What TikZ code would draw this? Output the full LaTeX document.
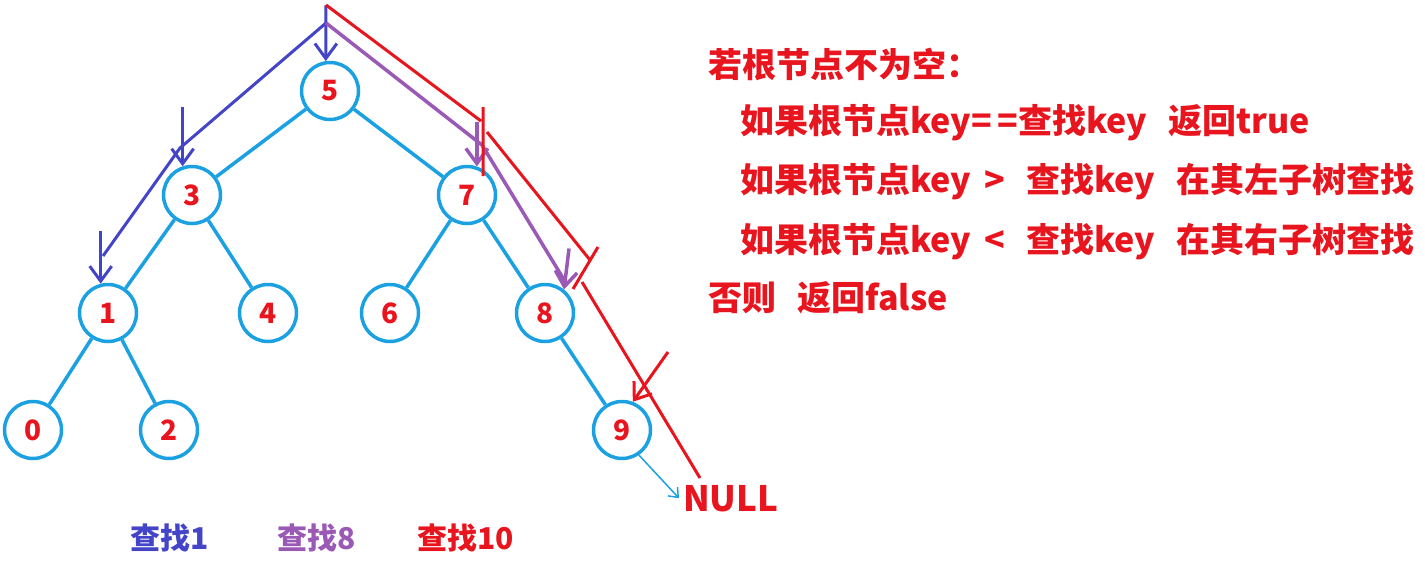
\documentclass[tikz,border=0pt]{standalone}
\usepackage{fontspec}
\setmainfont{Noto Sans CJK SC}
\usetikzlibrary{arrows.meta}
\definecolor{keyred}{RGB}{232,20,30}
\definecolor{treeblue}{RGB}{27,161,226}
\definecolor{findblue}{RGB}{68,68,200}
\definecolor{findpurple}{RGB}{155,89,182}

\begin{document}
\begin{tikzpicture}[x=1pt, y=-1pt,
    key/.style={circle, draw=treeblue, line width=3.5, minimum size=57,
      inner sep=0, text=keyred, font=\fontsize{28}{28}\selectfont\bfseries},
    edge/.style={treeblue, line width=3.5},
    rule/.style={text=keyred, inner sep=0, font=\fontsize{34}{34}\selectfont\bfseries},
    label/.style={inner sep=0, anchor=base west, font=\fontsize{30}{30}\selectfont\bfseries},
    tip/.style={-{Straight Barb[length=15pt, width=22pt]}},
    findone/.style={findblue, line width=3},
    findeight/.style={findpurple, line width=3.5},
    findten/.style={keyred, line width=3}
  ]
    \useasboundingbox (0,0) rectangle (1425,560);

    % the tree
    \node[key] (n5) at (330,91) {5};
    \node[key] (n3) at (192,195) {3};
    \node[key] (n7) at (467,195) {7};
    \node[key] (n1) at (108,313) {1};
    \node[key] (n4) at (268,313) {4};
    \node[key] (n6) at (390,313) {6};
    \node[key] (n8) at (545,313) {8};
    \node[key] (n0) at (33,430) {0};
    \node[key] (n2) at (169,430) {2};
    \node[key] (n9) at (622,430) {9};
    \node[text=keyred, inner sep=0, anchor=base west,
      font=\fontsize{35}{35}\selectfont\bfseries] (null) at (683,511) {NULL};

    \draw[edge]
      (n5) -- (n3) (n5) -- (n7)
      (n3) -- (n1) (n3) -- (n4)
      (n7) -- (n6) (n7) -- (n8)
      (n1) -- (n0) (n1) -- (n2)
      (n8) -- (n9)
    ;
    \draw[treeblue, line width=1.5, -{Straight Barb[length=8pt, width=13pt]}]
      (n9.-56) -- ([xshift=-4pt]null.west);

    % search paths
    \coordinate (top) at (326,5);
    \coordinate (fork) at (326,23);

    \draw[findone] (fork) -- (180,148) -- (103,256);
    \draw[findone, tip] (top) -- (n5.98);
    \draw[findone, tip] ([yshift=59pt]n3.108) -- (n3.108);
    \draw[findone, tip] ([yshift=53pt]n1.104) -- (n1.104);

    \draw[findeight] (fork) -- (482,145) -- (566,283);
    \draw[findeight, tip] ([yshift=44pt]n7.71) -- (n7.71);
    \draw[findeight, tip] ([shift={(5pt,41pt)}]n8.51) -- (n8.51);

    \draw[findten]
      (top) -- (481,121)
      (483,107) -- (483,176)
      (487,132) -- (590,260)
      (598,247) -- (573,289)
      (582,282) -- (700,478)
    ;
    \draw[findten, tip] (668,352) -- (n9.69);

    % the rule
    \node[rule, anchor=base west] (nonempty) at (708,77) {若根节点不为空：};
    \node[rule, anchor=base west] (equal) at (740,133) {如果根节点key=\,=查找key\ \ \,返回true};
    \node[rule, anchor=base west] (bigger) at (740,192) {如果根节点key \,>\ \ \,查找key\ \ \,在其左子树查找};
    \node[rule, anchor=base west] (smaller) at (740,252) {如果根节点key \,<\ \ \,查找key\ \ \,在其右子树查找};
    \node[rule, anchor=base west] (otherwise) at (708,310) {否则\ \ \,返回false};

    % legend
    \node[label, text=findblue] (one) at (130,549) {查找1};
    \node[label, text=findpurple] (eight) at (277,549) {查找8};
    \node[label, text=keyred] (ten) at (417,549) {查找10};
  \end{tikzpicture}
\end{document}
